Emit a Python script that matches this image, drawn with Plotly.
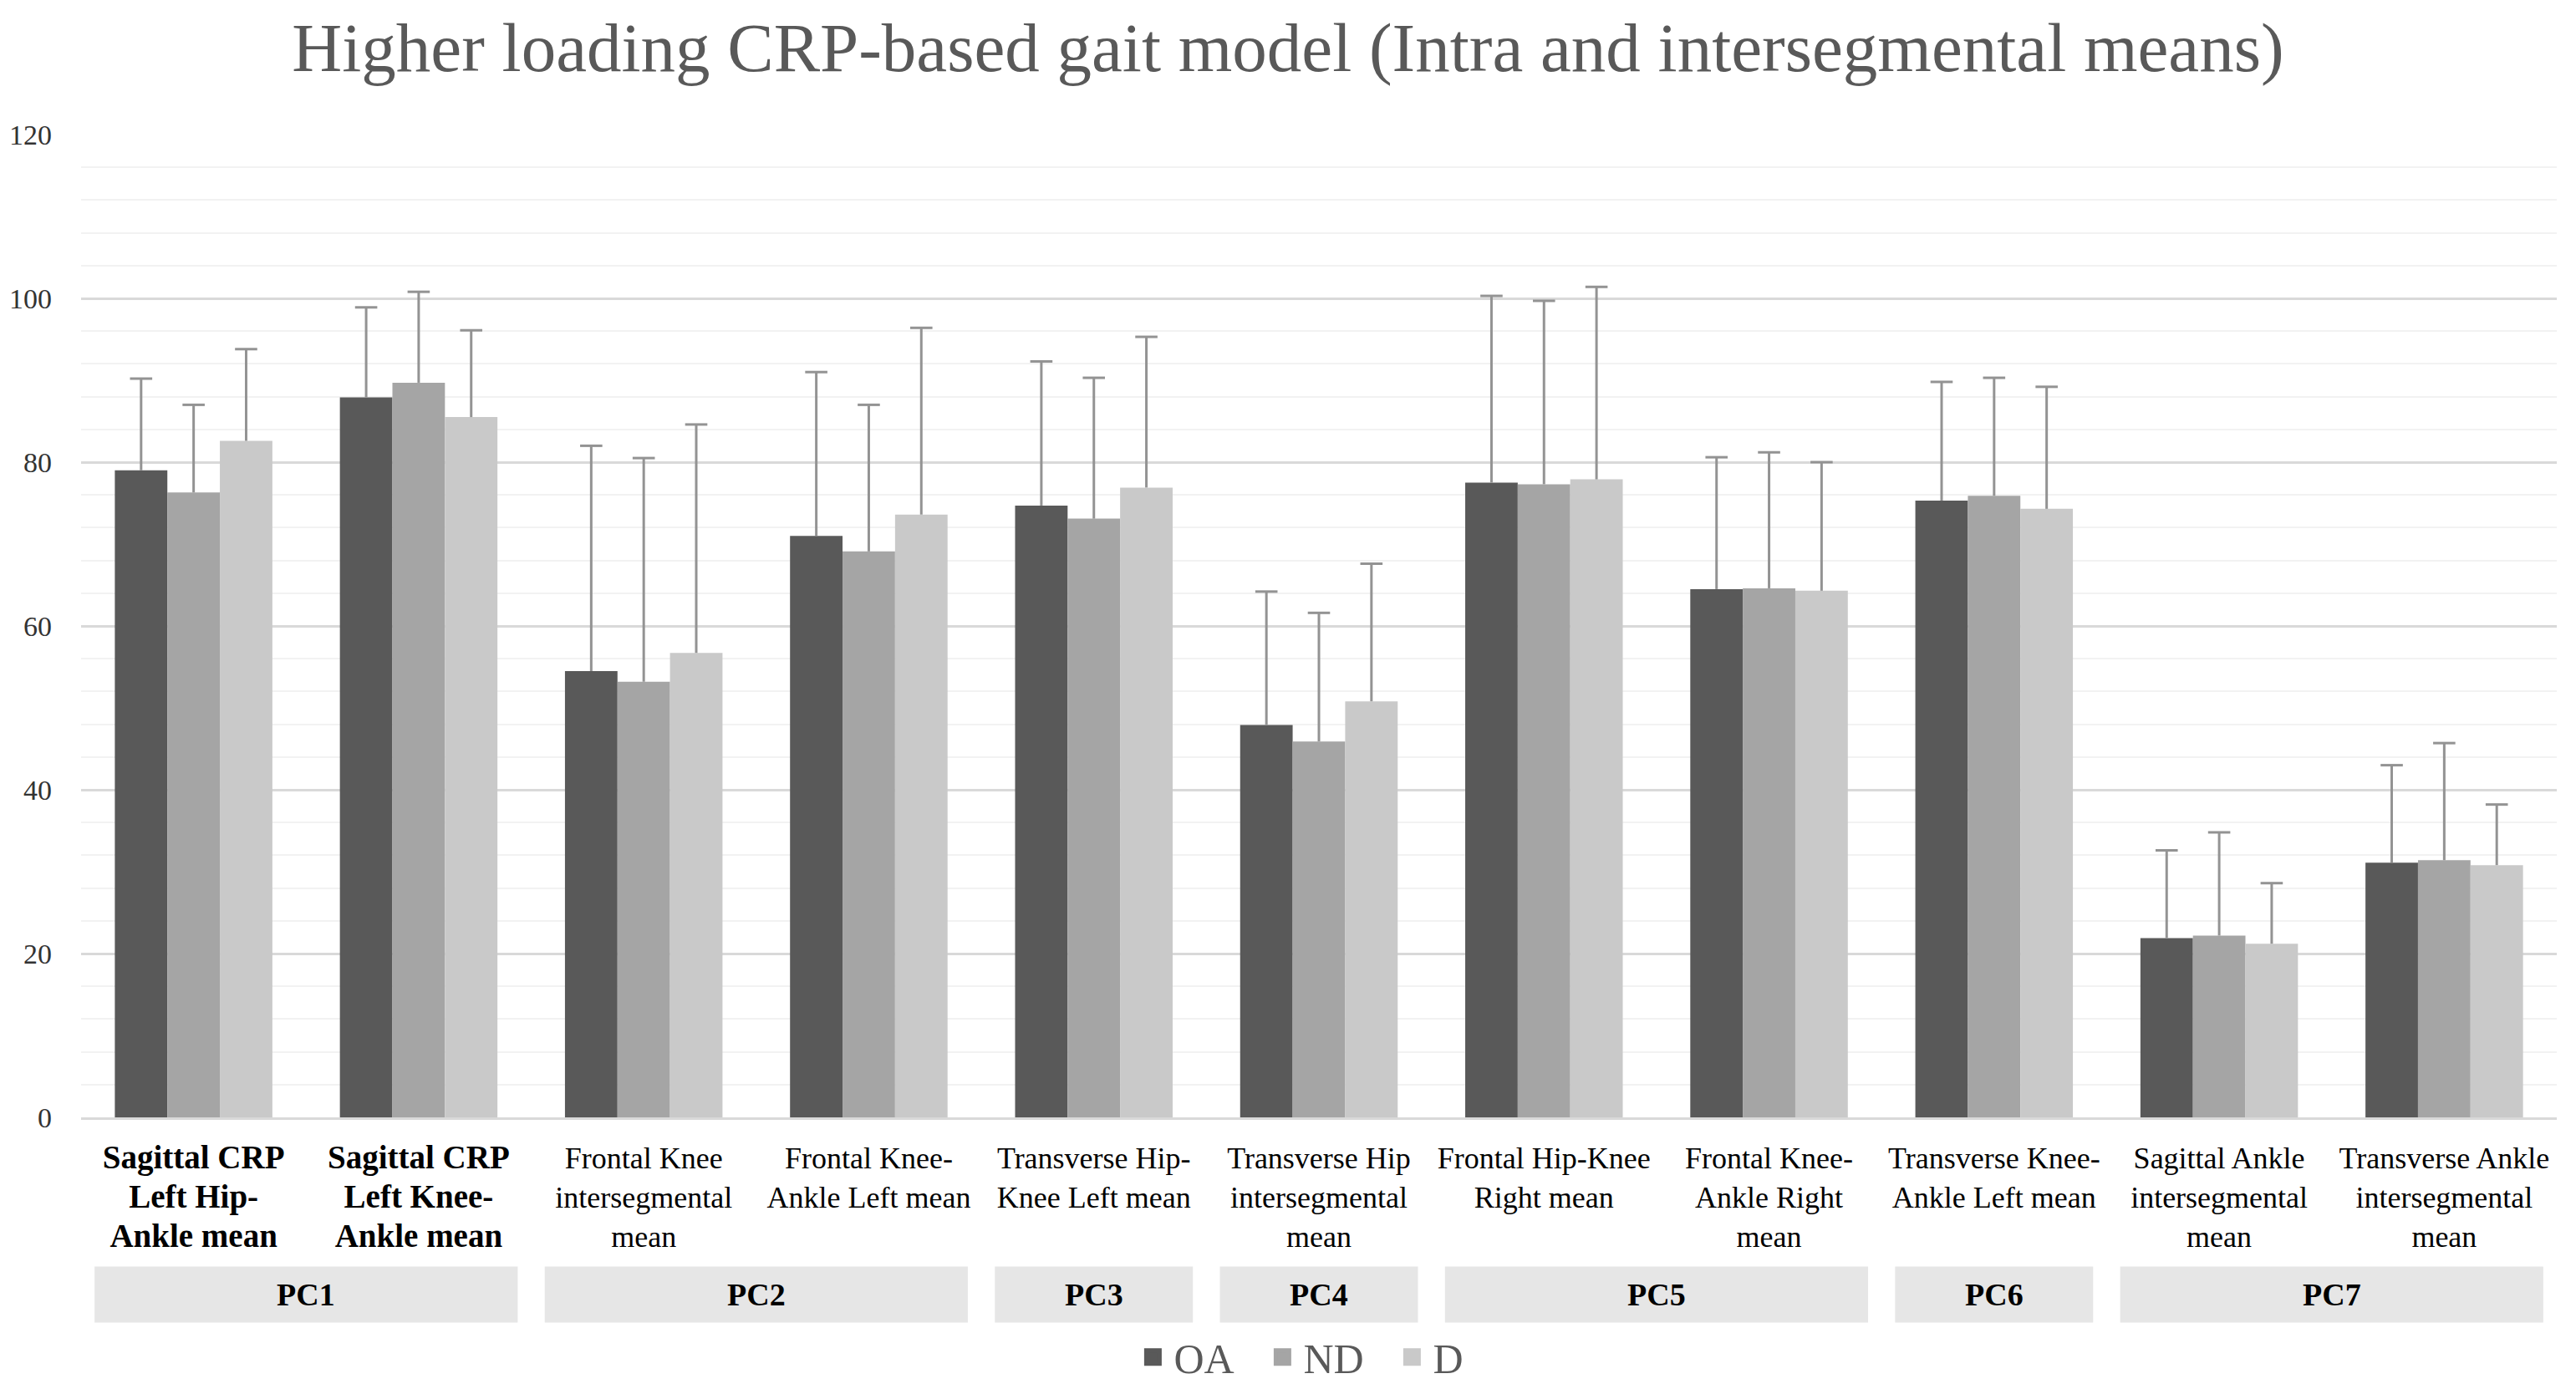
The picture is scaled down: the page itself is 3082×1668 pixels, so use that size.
import plotly.graph_objects as go

categories = [
    "Sagittal CRP Left Hip-Ankle mean",
    "Sagittal CRP Left Knee-Ankle mean",
    "Frontal Knee intersegmental mean",
    "Frontal Knee-Ankle Left mean",
    "Transverse Hip-Knee Left mean",
    "Transverse Hip intersegmental mean",
    "Frontal Hip-Knee Right mean",
    "Frontal Knee-Ankle Right mean",
    "Transverse Knee-Ankle Left mean",
    "Sagittal Ankle intersegmental mean",
    "Transverse Ankle intersegmental mean",
]
BOLD = "<b><span style='font-size:39px'>%s</span></b>"
tick_labels = [
    BOLD % "Sagittal CRP<br>Left Hip-<br>Ankle mean",
    BOLD % "Sagittal CRP<br>Left Knee-<br>Ankle mean",
    "Frontal Knee<br>intersegmental<br>mean",
    "Frontal Knee-<br>Ankle Left mean",
    "Transverse Hip-<br>Knee Left mean",
    "Transverse Hip<br>intersegmental<br>mean",
    "Frontal Hip-Knee<br>Right mean",
    "Frontal Knee-<br>Ankle Right<br>mean",
    "Transverse Knee-<br>Ankle Left mean",
    "Sagittal Ankle<br>intersegmental<br>mean",
    "Transverse Ankle<br>intersegmental<br>mean",
]

oa_mean = [79.0, 87.9, 54.5, 71.0, 74.7, 47.9, 77.5, 64.5, 75.3, 21.9, 31.1]
oa_sd   = [11.2, 11.0, 27.5, 20.0, 17.6, 16.3, 22.8, 16.1, 14.5, 10.7, 11.9]
nd_mean = [76.3, 89.7, 53.2, 69.1, 73.1, 45.9, 77.3, 64.6, 75.9, 22.2, 31.4]
nd_sd   = [10.7, 11.1, 27.3, 17.9, 17.2, 15.7, 22.4, 16.6, 14.4, 12.6, 14.3]
d_mean  = [82.6, 85.5, 56.7, 73.6, 76.9, 50.8, 77.9, 64.3, 74.3, 21.2, 30.8]
d_sd    = [11.2, 10.6, 27.9, 22.8, 18.4, 16.8, 23.5, 15.7, 14.9, 7.4, 7.4]

series_names = ["OA", "ND", "D"]
series_colors = ["#595959", "#a5a5a5", "#c9c9c9"]

pc_labels = ["PC1", "PC2", "PC3", "PC4", "PC5", "PC6", "PC7"]
pc_first = [0, 2, 4, 5, 6, 8, 9]
pc_last = [1, 3, 4, 5, 7, 8, 10]

FONT = "Liberation Serif"
ERR_COLOR = "#939393"

fig = go.Figure()
for name, means, sds, col in zip(series_names, [oa_mean, nd_mean, d_mean],
                                 [oa_sd, nd_sd, d_sd], series_colors):
    # bars with the upward error stem (no caps)
    fig.add_trace(go.Bar(
        name=name, x=categories, y=means, offsetgroup=name, legendgroup=name,
        showlegend=False,
        marker=dict(color=col, line=dict(width=0)),
        error_y=dict(type="data", symmetric=False, array=sds,
                     arrayminus=[0] * len(sds), color=ERR_COLOR,
                     thickness=3, width=0),
    ))
    # cap at the top of each error bar
    fig.add_trace(go.Scatter(
        name=name, x=categories, y=[m + s for m, s in zip(means, sds)],
        offsetgroup=name, legendgroup=name, showlegend=False, mode="markers",
        marker=dict(symbol="line-ew", size=19, color=ERR_COLOR,
                    line=dict(width=3, color=ERR_COLOR)),
        hoverinfo="skip",
    ))
    # legend entry
    fig.add_trace(go.Scatter(
        name=name, x=[None], y=[None], mode="markers", legendgroup=name,
        marker=dict(symbol="square", size=16, color=col,
                    line=dict(width=5, color=col)),
    ))

shapes = []
annotations = []
for lab, a, b in zip(pc_labels, pc_first, pc_last):
    shapes.append(dict(type="rect", xref="x", yref="paper",
                       x0=a - 0.44, x1=b + 0.44, y0=-0.2088, y1=-0.1518,
                       fillcolor="#e6e6e6", line=dict(width=0), layer="below"))
    annotations.append(dict(xref="x", yref="paper", x=(a + b) / 2, y=-0.1803,
                            text="<b>" + lab + "</b>", showarrow=False,
                            font=dict(family=FONT, size=38, color="#000000"),
                            xanchor="center", yanchor="middle"))

# the page body adds an 8px margin, so the figure is 16px smaller than the window
fig.update_layout(
    width=3066, height=1652,
    paper_bgcolor="white", plot_bgcolor="white",
    margin=dict(l=89, r=15, t=153, b=323, autoexpand=False),
    barmode="group", bargap=0.30, bargroupgap=0,
    scattermode="group", scattergap=0.30,
    title=dict(text="Higher loading CRP-based gait model (Intra and intersegmental means)",
               x=0.5, xanchor="center", y=0.971, yanchor="middle",
               font=dict(family=FONT, size=83, color="#595959")),
    legend=dict(orientation="h", x=0.503, xanchor="center", y=-0.277, yanchor="bottom",
                font=dict(family=FONT, size=50, color="#595959"),
                bgcolor="rgba(0,0,0,0)",
                itemwidth=40, traceorder="normal",
                entrywidth=100, entrywidthmode="pixels"),
    shapes=shapes, annotations=annotations,
    xaxis=dict(type="category", tickvals=categories, ticktext=tick_labels,
               tickfont=dict(family=FONT, size=36, color="#000000"),
               showline=True, linecolor="#d9d9d9", linewidth=3,
               showgrid=False, ticks="", ticklabelstandoff=15,
               range=[-0.5, 10.5], automargin=False),
    yaxis=dict(range=[0, 120], dtick=20, tick0=0,
               tickfont=dict(family=FONT, size=34, color="#333333"),
               showgrid=True, gridcolor="#d9d9d9", gridwidth=2.5,
               zeroline=False, ticks="", ticklabelstandoff=34,
               minor=dict(dtick=4, showgrid=True, gridcolor="#f2f2f2", gridwidth=2),
               automargin=False),
    showlegend=True,
)

fig.write_html("out.html")
